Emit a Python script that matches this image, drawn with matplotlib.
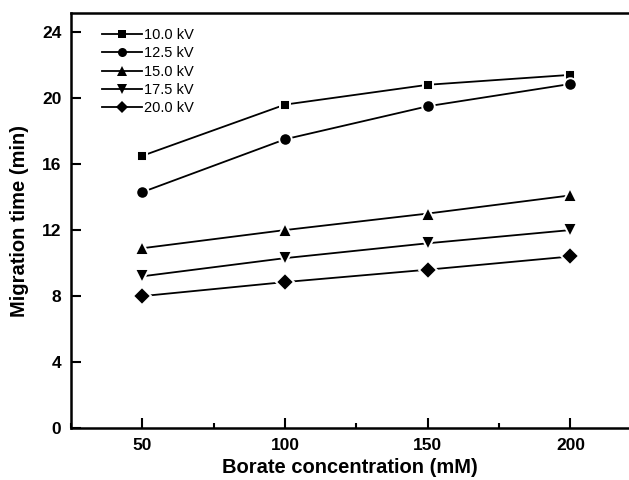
import matplotlib
matplotlib.use("Agg")
import matplotlib.pyplot as plt
from matplotlib.ticker import MultipleLocator

# data
borate = [50, 100, 150, 200]
voltages = ["10.0 kV", "12.5 kV", "15.0 kV", "17.5 kV", "20.0 kV"]
t_10kv = [16.5, 19.6, 20.8, 21.4]
t_125kv = [14.3, 17.5, 19.5, 20.85]
t_15kv = [10.9, 12.0, 13.0, 14.1]
t_175kv = [9.2, 10.3, 11.2, 12.0]
t_20kv = [8.0, 8.85, 9.6, 10.4]

MARKERS = ["s", "o", "^", "v", "D"]
SIZES = [7.5, 9, 10, 10, 9.5]
LEGEND_SIZES = [5.5, 6.5, 7, 7, 6.5]

plt.rcParams["font.family"] = ["Liberation Sans", "DejaVu Sans"]

fig = plt.figure(figsize=(6.29, 4.80), dpi=100)
ax = fig.add_axes([0.113, 0.108, 0.887, 0.865])

series = [t_10kv, t_125kv, t_15kv, t_175kv, t_20kv]
for vals, lab, mk, ms in zip(series, voltages, MARKERS, SIZES):
    ax.plot(borate, vals, color="black", lw=1.3, marker=mk, ms=ms,
            markeredgecolor="white", markeredgewidth=1.4, label=lab)

ax.set_xlim(25, 220.5)
ax.set_ylim(0, 25.15)
ax.xaxis.set_major_locator(MultipleLocator(50))
ax.xaxis.set_minor_locator(MultipleLocator(25))
ax.yaxis.set_major_locator(MultipleLocator(4))
ax.set_xticks([50, 100, 150, 200])
ax.tick_params(axis="both", which="major", direction="in", length=7, width=1.5,
               labelsize=12.5, pad=7)
ax.tick_params(axis="x", which="minor", direction="in", length=3.5, width=1.5)
ax.tick_params(axis="y", which="minor", length=0)
for lbl in ax.get_xticklabels() + ax.get_yticklabels():
    lbl.set_fontweight("bold")

for side in ["left", "bottom", "top"]:
    ax.spines[side].set_linewidth(1.8)
ax.spines["right"].set_visible(False)

ax.set_xlabel("Borate concentration (mM)", fontsize=14.5, fontweight="bold", labelpad=4)
ax.set_ylabel("Migration time (min)", fontsize=14.5, fontweight="bold", labelpad=9)

leg = ax.legend(loc="upper left", bbox_to_anchor=(0.04, 0.985), frameon=False,
                fontsize=10.5, handlelength=2.7, handletextpad=0.15,
                labelspacing=0.3, borderaxespad=0.2)
for h, ms in zip(leg.legend_handles, LEGEND_SIZES):
    h.set_markeredgewidth(0)
    h.set_markersize(ms)

fig.savefig("out.png", dpi=100)
